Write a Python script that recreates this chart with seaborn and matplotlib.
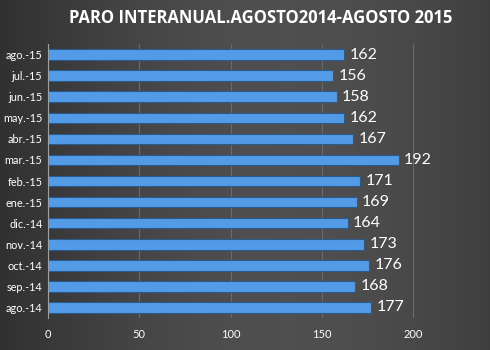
import matplotlib
matplotlib.use("Agg")
import matplotlib.pyplot as plt
import seaborn as sns
import pandas as pd
import numpy as np

months = ["ago.-15", "jul.-15", "jun.-15", "may.-15", "abr.-15", "mar.-15", "feb.-15",
          "ene.-15", "dic.-14", "nov.-14", "oct.-14", "sep.-14", "ago.-14"]
values = [162, 156, 158, 162, 167, 192, 171, 169, 164, 173, 176, 168, 177]
xticks = [0, 50, 100, 150, 200]
title = "PARO INTERANUAL.AGOSTO2014-AGOSTO 2015"

df = pd.DataFrame({"mes": months, "paro": values})

sns.set_theme(style="dark")
plt.rcParams['font.family'] = ['Lato', 'DejaVu Sans']

bg = "#3b3b3b"
fig = plt.figure(figsize=(4.9, 3.5), dpi=100)
fig.patch.set_facecolor(bg)

# background gradient
bgax = fig.add_axes([0, 0, 1, 1], zorder=-10)
gx = np.linspace(0, 1, 256)
g = 0.19 + 0.12 * np.sin(np.pi * gx * 0.85)
img = np.repeat(np.stack([g, g, g], axis=-1)[np.newaxis, :, :], 2, axis=0)
bgax.imshow(img, aspect="auto", extent=[0, 1, 0, 1])
bgax.axis("off")

ax = fig.add_axes([48 / 490, 1 - 318 / 350, 442 / 490, (318 - 44) / 350])
ax.set_facecolor("none")

sns.barplot(data=df, x="paro", y="mes", orient="h", ax=ax, color="#539be6",
            width=0.5, edgecolor="#2a5b90", linewidth=0.8, saturation=1)

for i, v in enumerate(values):
    ax.text(v + 3, i, str(v), va="center", ha="left", color="white", fontsize=11.5)

ax.set_xlim(0, 242)
ax.set_ylim(len(months) - 0.5, -0.5)
ax.set_xticks(xticks)
ax.set_xticklabels([str(t) for t in xticks], color="white", fontsize=8)
ax.set_yticklabels(months, color="white", fontsize=7.8)
ax.set_xlabel("")
ax.set_ylabel("")
ax.grid(axis="x", color="#6a6a6a", linewidth=0.8)
ax.grid(axis="y", visible=False)
for s in ["top", "right", "bottom"]:
    ax.spines[s].set_visible(False)
ax.spines["left"].set_color("#a0a0a0")
ax.spines["left"].set_linewidth(0.8)
ax.tick_params(axis="x", length=0, pad=8)
ax.tick_params(axis="y", length=0, pad=4)
ax.set_yticks(np.arange(-0.5, len(months), 1), minor=True)
ax.tick_params(axis="y", which="minor", length=3, color="#a0a0a0", direction="out")

fig.text(261 / 490, 1 - 18 / 350, title, ha="center", va="center", color="white",
         fontsize=12, fontweight="bold", family=["Open Sans", "DejaVu Sans"])

fig.savefig("out.png", dpi=100, facecolor=bg)
